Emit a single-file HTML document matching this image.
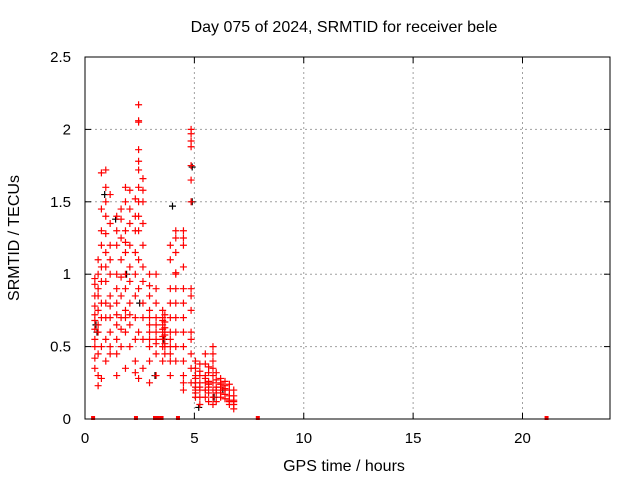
<!DOCTYPE html>
<html><head><meta charset="utf-8"><style>
body{margin:0;background:#fff}
svg{display:block;font-family:"Liberation Sans",sans-serif}
</style></head><body>
<svg id="chart" width="640" height="480">
<rect width="640" height="480" fill="#fff"/>
<text x="344" y="32" font-size="16" text-anchor="middle">Day 075 of 2024, SRMTID for receiver bele</text>
<text x="344" y="471" font-size="16" text-anchor="middle">GPS time / hours</text>
<text transform="translate(19,238) rotate(-90)" font-size="16" text-anchor="middle">SRMTID / TECUs</text>
<g id="grid"></g>
<g id="ticks"></g>
<g id="black"></g>
<g id="red"></g>
<rect x="85" y="57" width="525" height="362" fill="none" stroke="#000" stroke-width="1"/>
</svg>
<script>
const xTicks=[0,5,10,15,20];
const yTicks=[0,0.5,1,1.5,2,2.5];
const yTickLabels=["0","0.5","1","1.5","2","2.5"];
const colHours=[0.45,0.6,0.75,0.95,1.15,1.45,1.65,1.85,2.05,2.3,2.45,2.65,2.95,3.25,3.55,3.65,3.9,4.15,4.5,4.85,5.05,5.25,5.5,5.65,5.85,6.0,6.2,6.4,6.6,6.8];
const colValues=[
[0.35,0.42,0.5,0.55,0.62,0.68,0.72,0.78,0.85,0.93,0.97],
[0.23,0.3,0.45,0.6,0.75,0.9,1.0,1.1,0.85,0.65],
[0.28,0.5,0.8,0.95,1.2,1.3,1.45,1.7,1.05,0.7],
[0.4,0.55,0.7,0.8,0.95,1.05,1.15,1.28,1.4,1.5,1.6,1.72],
[0.45,0.6,0.7,0.85,1.0,1.1,1.2,1.35,1.55,0.5,0.78],
[0.3,0.45,0.55,0.65,0.8,0.9,1.0,1.2,1.3,1.4,0.72],
[0.5,0.7,0.85,0.98,1.1,1.25,1.38,1.45,0.62],
[0.35,0.6,0.75,0.9,1.0,1.15,1.3,1.5,1.6,0.7,1.22],
[0.5,0.65,0.8,0.95,1.05,1.2,1.35,1.45,1.58,0.72],
[0.4,0.55,0.7,0.85,1.0,1.15,1.3,1.4,1.52,0.32],
[1.3,1.4,1.5,1.6,1.72,1.78,1.86,2.05,2.06,2.17,0.28,0.6,0.9,1.1],
[0.35,0.55,0.7,0.8,0.95,1.05,1.2,1.35,1.5,1.58,1.66],
[0.25,0.4,0.55,0.65,0.75,0.85,0.92,1.0,0.5,0.6,0.7],
[0.3,0.45,0.6,0.7,0.8,0.9,1.0,0.55,0.65,0.52],
[0.4,0.5,0.55,0.6,0.62,0.65,0.7,0.75,0.57,0.68],
[0.45,0.52,0.58,0.63,0.67,0.72,0.6,0.5],
[0.3,0.4,0.5,0.6,0.7,0.8,0.9,1.1,1.2,0.55,0.45],
[0.5,0.6,0.7,0.9,1.0,1.01,1.15,1.25,1.3,0.4,0.8],
[0.25,0.3,0.4,0.5,0.6,0.7,0.8,0.9,1.05,1.2,1.25,0.2,1.3],
[1.5,1.65,1.75,1.88,1.92,1.97,2.0,0.25,0.35,0.45,0.6,0.75,0.85,0.55,0.9],
[0.15,0.2,0.25,0.3,0.35,0.4,0.22,0.28,0.18],
[0.1,0.15,0.2,0.25,0.3,0.38,0.33,0.22],
[0.15,0.2,0.25,0.3,0.38,0.45,0.2,0.28],
[0.12,0.18,0.22,0.26,0.32,0.36,0.24],
[0.1,0.15,0.2,0.25,0.3,0.35,0.4,0.45,0.5],
[0.12,0.18,0.22,0.27,0.32,0.2],
[0.15,0.18,0.2,0.22,0.25,0.28,0.24],
[0.14,0.17,0.2,0.23,0.26,0.21],
[0.1,0.13,0.16,0.2,0.24,0.12],
[0.07,0.1,0.13,0.16,0.2,0.12]
];
const zeroHours=[0.37,2.33,3.2,3.33,3.5,4.25,7.9,21.1];
const blackHours=[0.5,0.55,0.9,1.4,2.5,3.2,4.0,4.9,4.9,5.2,3.6,1.9,5.9,6.3];
const blackValues=[0.65,0.6,1.55,1.38,0.8,0.3,1.47,1.5,1.74,0.08,0.55,1.0,0.15,0.2];

const X0=85,X1=610,Y0=419,Y1=57;
const xs=h=>X0+h/24*(X1-X0);
const ys=v=>Y0-v/2.5*(Y0-Y1);
const NS="http://www.w3.org/2000/svg";
const grid=document.getElementById('grid'),ticks=document.getElementById('ticks');
function mk(tag,attrs,parent){const e=document.createElementNS(NS,tag);for(const k in attrs)e.setAttribute(k,attrs[k]);parent.appendChild(e);return e;}
xTicks.forEach(t=>{
  const x=xs(t);
  if(t>0){const g=mk('line',{x1:x,x2:x,y1:Y0,y2:Y1,stroke:'#a0a0a0','stroke-dasharray':'2,3'},grid);
  
  }
  const a=mk('line',{x1:x,x2:x,y1:Y0,y2:Y0-6,stroke:'#000'},ticks);
  
  
  const b=mk('line',{x1:x,x2:x,y1:Y1,y2:Y1+6,stroke:'#000'},ticks);
  
  
  const l=mk('text',{x:x,y:443,'font-size':15,'text-anchor':'middle'},ticks);
  l.textContent=String(t);
  
  
});
yTicks.forEach((t,i)=>{
  const y=ys(t);
  if(t>0&&t<2.5){const g=mk('line',{x1:X0,x2:X1,y1:y,y2:y,stroke:'#a0a0a0','stroke-dasharray':'2,3'},grid);
  
  }
  const a=mk('line',{x1:X0,x2:X0+6,y1:y,y2:y,stroke:'#000'},ticks);
  
  
  const b=mk('line',{x1:X1,x2:X1-6,y1:y,y2:y,stroke:'#000'},ticks);
  
  
  const l=mk('text',{x:71,y:y+5,'font-size':15,'text-anchor':'end'},ticks);
  l.textContent=yTickLabels[i];
  
  
});
function cross(h,v,color,parent){
  const x=xs(h),y=ys(v);
  const p=mk('path',{d:`M${x-3.5},${y}H${x+3.5}M${x},${y-3.5}V${y+3.5}`,stroke:color,'stroke-width':1.2,fill:'none'},parent);
  
  
}
const blk=document.getElementById('black'),red=document.getElementById('red');
blackHours.forEach((h,i)=>cross(h,blackValues[i],'#000',blk));
colHours.forEach((h,i)=>colValues[i].forEach(v=>cross(h,v,'#f00',red)));
zeroHours.forEach(h=>{
  const r=mk('rect',{x:xs(h)-2,y:Y0-3,width:4,height:4,fill:'#f00'},red);
  
  
});
</script>
</body></html>
